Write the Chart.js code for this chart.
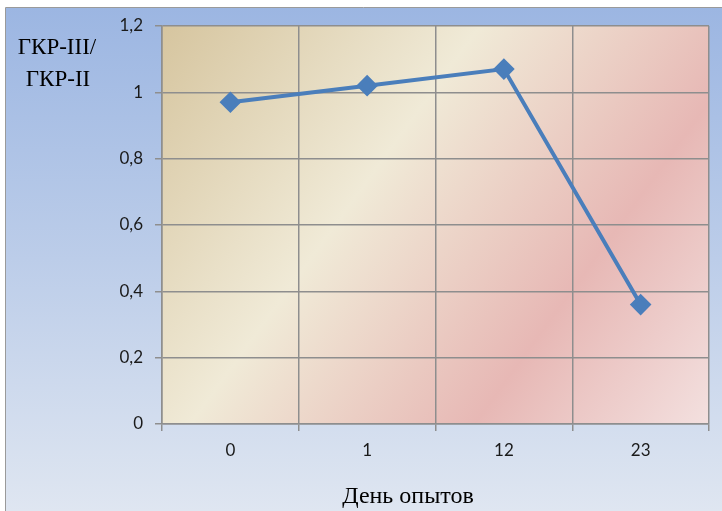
<!DOCTYPE html>
<html><head><meta charset="utf-8">
<script src="https://cdn.jsdelivr.net/npm/chart.js@4/dist/chart.umd.min.js"></script>
<style>html,body{margin:0;padding:0;background:#fff}#wrap{width:722px;height:511px}</style>
</head><body><div id="wrap"><canvas id="c" width="722" height="511"></canvas></div>
<script>
const categories = ['0', '1', '12', '23'];
const ratioValues = [0.97, 1.02, 1.07, 0.36];
const yTickLabels = ['0', '0,2', '0,4', '0,6', '0,8', '1', '1,2'];
const yTitleLines = ['ГКР-III/', 'ГКР-II'];
const xTitle = 'День опытов';

const bgPlugin = {
  id: 'bg',
  beforeDraw(chart) {
    const ctx = chart.ctx, W = chart.width, H = chart.height;
    ctx.save();
    ctx.fillStyle = '#ffffff';
    ctx.fillRect(0, 0, W, H);
    const g = ctx.createLinearGradient(0, 8, 0, H);
    g.addColorStop(0, '#9cb6e2');
    g.addColorStop(0.5, '#bccde9');
    g.addColorStop(1, '#dfe6f1');
    ctx.fillStyle = g;
    ctx.fillRect(6, 8, W - 6, H - 8);
    ctx.strokeStyle = '#9a9a9a';
    ctx.lineWidth = 1;
    ctx.beginPath();
    ctx.moveTo(5.5, H); ctx.lineTo(5.5, 7.5); ctx.lineTo(W, 7.5);
    ctx.stroke();
    const a = chart.chartArea;
    const pg = ctx.createLinearGradient(a.left, a.top, a.right, a.bottom);
    pg.addColorStop(0, '#d6c59f');
    pg.addColorStop(0.38, '#f0ead7');
    pg.addColorStop(0.72, '#e7b8b5');
    pg.addColorStop(1, '#f3e0df');
    ctx.fillStyle = pg;
    ctx.fillRect(a.left, a.top, a.right - a.left, a.bottom - a.top);
    ctx.restore();
  },
  afterDraw(chart) {
    const ctx = chart.ctx;
    ctx.save();
    ctx.fillStyle = '#000';
    ctx.font = '23px "Liberation Serif", "Times New Roman", serif';
    ctx.textAlign = 'center';
    ctx.textBaseline = 'middle';
    ctx.fillText(yTitleLines[0], 57, 48);
    ctx.fillText(yTitleLines[1], 58, 80);
    ctx.font = '24px "Liberation Serif", "Times New Roman", serif';
    ctx.fillText(xTitle, 408, 497);
    ctx.restore();
  }
};

new Chart(document.getElementById('c'), {
  type: 'line',
  data: {
    labels: categories,
    datasets: [{
      data: ratioValues,
      borderColor: '#4a7ebb',
      backgroundColor: '#4a7ebb',
      borderWidth: 4,
      pointStyle: 'rectRot',
      pointRadius: 8,
      pointHoverRadius: 8,
      pointBackgroundColor: '#4a7ebb',
      pointBorderColor: '#4a7ebb',
      tension: 0,
      fill: false
    }]
  },
  options: {
    responsive: false,
    animation: false,
    devicePixelRatio: 1,
    layout: { padding: { left: 0, top: 26, right: 13, bottom: 0 } },
    plugins: { legend: { display: false }, tooltip: { enabled: false } },
    scales: {
      x: {
        offset: true,
        grid: { offset: true, color: '#8e8e8e', lineWidth: 1.5, tickLength: 7, drawTicks: true },
        border: { color: '#8e8e8e', width: 1.5 },
        ticks: { color: '#1a1a1a', font: { family: 'Lato, "Liberation Sans", sans-serif', size: 17 }, padding: 9, maxRotation: 0 },
        afterFit(s) { s.height = 87; }
      },
      y: {
        min: 0, max: 1.2,
        grid: { color: '#8e8e8e', lineWidth: 1.5, tickLength: 7 },
        border: { color: '#8e8e8e', width: 1.5 },
        ticks: {
          stepSize: 0.2,
          color: '#1a1a1a',
          font: { family: 'Lato, "Liberation Sans", sans-serif', size: 17 },
          padding: 12,
          callback(v, i) { return yTickLabels[i]; }
        },
        afterFit(s) { s.width = 162; }
      }
    }
  },
  plugins: [bgPlugin]
});
</script></body></html>
